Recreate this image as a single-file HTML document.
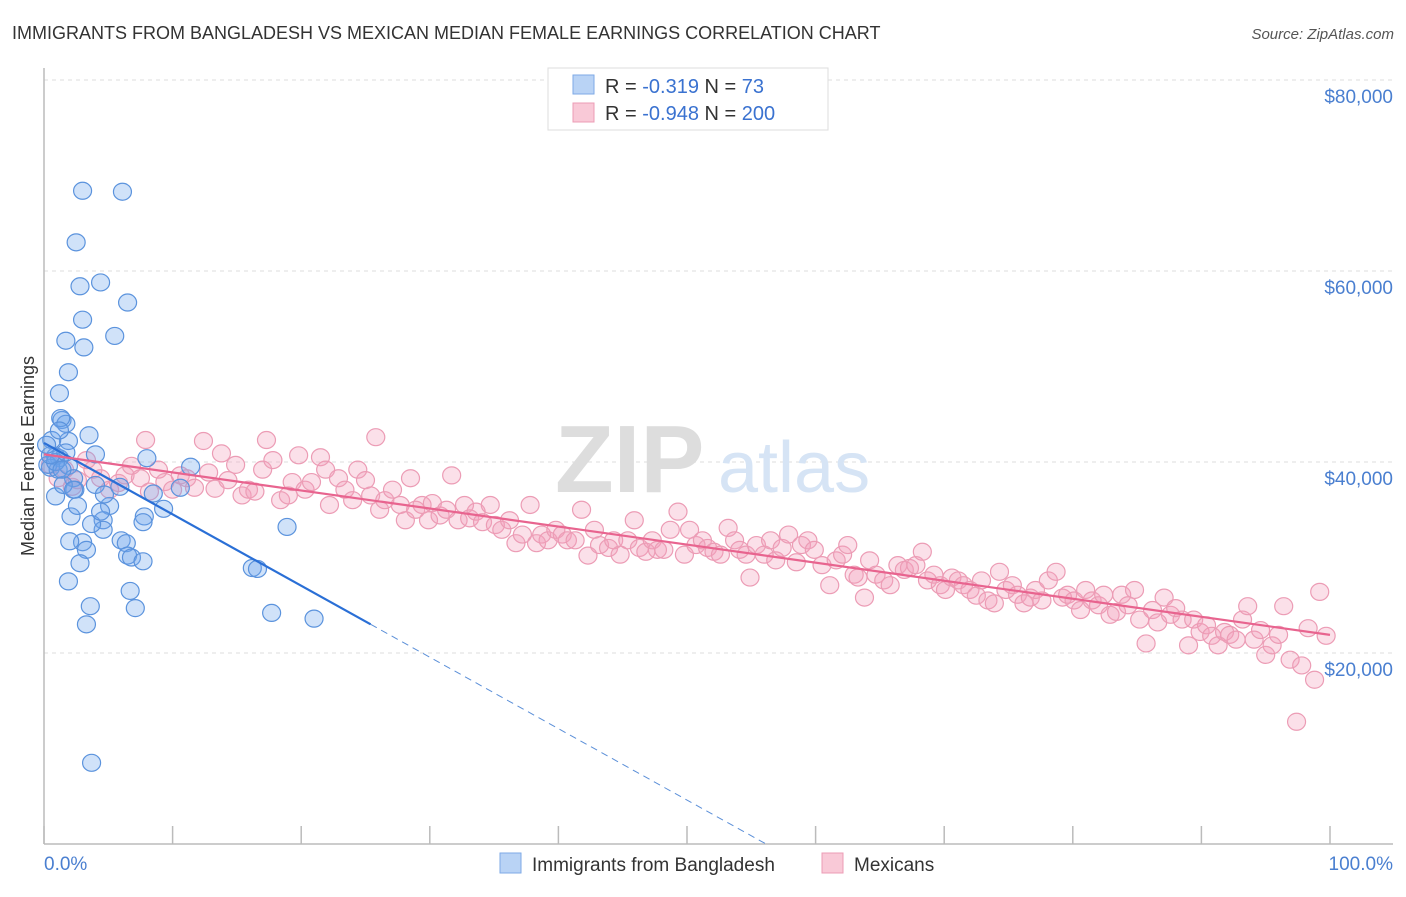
<!DOCTYPE html>
<html><head><meta charset="utf-8"><style>
body{margin:0;background:#fff;font-family:"Liberation Sans",sans-serif}
svg text{font-family:"Liberation Sans",sans-serif}
</style></head><body>
<svg id="chart" width="1406" height="892" xmlns="http://www.w3.org/2000/svg">
<text x="12" y="39" font-size="18" fill="#333">IMMIGRANTS FROM BANGLADESH VS MEXICAN MEDIAN FEMALE EARNINGS CORRELATION CHART</text>
<text x="1394" y="39" font-size="15" fill="#555" font-style="italic" text-anchor="end">Source: ZipAtlas.com</text>
<g id="grid"></g>
<g>
<text x="555" y="492" font-size="96" fill="#ddd" font-family="Liberation Serif" font-weight="bold">ZIP</text>
<text x="718" y="492" font-size="72" fill="#d6e4f5">atlas</text>
</g>
<line x1="44" y1="68" x2="44" y2="844" stroke="#bbb" stroke-width="1.5"/>
<line x1="44" y1="844" x2="1393" y2="844" stroke="#bbb" stroke-width="1.5"/>
<g id="xticks"></g>
<g id="yticks"></g>
<text transform="translate(34,456) rotate(-90)" font-size="18" fill="#333" text-anchor="middle">Median Female Earnings</text>
<text x="44" y="870" font-size="19" fill="#4a7fd0">0.0%</text>
<text x="1393" y="870" font-size="19" fill="#4a7fd0" text-anchor="end">100.0%</text>
<g id="pink"></g>
<g id="blue"></g>
<g id="trends"></g>
<g>
<rect x="548" y="68" width="280" height="62" fill="#fff" stroke="#ddd"/>
<rect x="573" y="75" width="21" height="19" fill="#b9d3f5" stroke="#7ea9e6"/>
<rect x="573" y="103" width="21" height="19" fill="#f9c9d7" stroke="#ec9cb5"/>
<text x="605" y="93" font-size="20" fill="#333">R = <tspan fill="#3a72d0">-0.319</tspan>   N = <tspan fill="#3a72d0">   73</tspan></text>
<text x="605" y="120" font-size="20" fill="#333">R = <tspan fill="#3a72d0">-0.948</tspan>   N = <tspan fill="#3a72d0">200</tspan></text>
</g>
<g>
<rect x="500" y="853" width="21" height="20" fill="#b9d3f5" stroke="#7ea9e6"/>
<text x="532" y="871" font-size="19" fill="#333">Immigrants from Bangladesh</text>
<rect x="822" y="853" width="21" height="20" fill="#f9c9d7" stroke="#ec9cb5"/>
<text x="854" y="871" font-size="19" fill="#333">Mexicans</text>
</g>
</svg>
<script>
const yTicks=[20000,40000,60000,80000];
const yTickLabels=["$20,000","$40,000","$60,000","$80,000"];
const xTicks=[0,10,20,30,40,50,60,70,80,90,100];
const blueX=[3.0,6.1,2.5,2.8,4.4,6.5,3.0,5.5,1.7,3.1,1.9,1.2,1.4,1.7,1.3,1.9,3.5,4.0,0.6,0.9,1.2,0.5,1.1,1.9,2.3,2.4,0.9,2.1,2.6,1.5,4.0,5.9,5.1,4.6,4.6,3.7,3.0,3.3,2.0,1.9,2.8,3.6,3.3,8.0,7.8,7.7,8.5,11.4,10.6,9.3,6.0,6.4,6.5,6.8,7.7,6.7,7.1,16.2,16.6,17.7,21.0,18.9,3.7,0.3,0.9,0.5,1.4,2.3,4.7,4.4,1.2,0.2,1.7];
const blueY=[68.4,68.3,63.0,58.4,58.8,56.7,54.9,53.2,52.7,52.0,49.4,47.2,44.4,44.0,44.6,42.2,42.8,40.8,42.3,40.6,40.4,39.4,39.2,39.6,38.3,37.1,36.4,34.3,35.4,37.6,37.6,37.4,35.4,33.9,32.9,33.5,31.6,30.8,31.7,27.5,29.4,24.9,23.0,40.4,34.3,33.7,36.7,39.5,37.3,35.1,31.8,31.5,30.2,30.0,29.6,26.5,24.7,28.9,28.8,24.2,23.6,33.2,8.5,39.7,40.0,40.7,39.2,37.1,36.6,34.8,43.3,41.8,41.0];
const pinkX=[0.5,1.1,1.6,2.2,2.6,3.3,3.8,4.4,5.1,5.8,6.3,6.8,7.5,7.9,8.2,8.9,9.4,10.0,10.6,11.1,11.7,12.4,12.8,13.3,13.8,14.3,14.9,15.4,15.9,16.4,17.0,17.3,17.8,18.4,19.0,19.3,19.8,20.3,20.8,21.5,21.9,22.2,22.9,23.4,24.0,24.4,25.0,25.4,25.8,26.1,26.5,27.1,27.7,28.1,28.5,28.9,29.4,29.9,30.2,30.8,31.3,31.7,32.2,32.7,33.1,33.6,34.1,34.7,35.1,35.6,36.2,36.7,37.2,37.8,38.3,38.7,39.2,39.8,40.3,40.7,41.3,41.8,42.3,42.8,43.2,43.9,44.3,44.8,45.4,45.9,46.3,46.8,47.3,47.7,48.2,48.7,49.3,49.8,50.2,50.7,51.2,51.6,52.1,52.6,53.2,53.7,54.1,54.6,54.9,55.4,56.0,56.5,56.9,57.4,57.9,58.5,58.9,59.4,59.9,60.5,61.1,61.6,62.1,62.5,63.0,63.3,63.8,64.2,64.7,65.3,65.8,66.4,66.9,67.3,67.8,68.3,68.7,69.2,69.7,70.1,70.6,71.1,71.5,72.0,72.5,72.9,73.4,73.9,74.3,74.8,75.3,75.7,76.2,76.7,77.1,77.6,78.1,78.7,79.2,79.6,80.1,80.6,81.0,81.5,82.0,82.4,82.9,83.4,83.8,84.3,84.8,85.2,85.7,86.2,86.6,87.1,87.6,88.0,88.5,89.0,89.4,89.9,90.4,90.8,91.3,91.8,92.2,92.7,93.2,93.6,94.1,94.6,95.0,95.5,96.0,96.4,96.9,97.4,97.8,98.3,98.8,99.2,99.7];
const pinkY=[39.7,38.3,39.2,37.4,38.1,40.2,39.2,38.3,37.1,37.8,38.6,39.6,38.3,42.3,36.9,39.2,37.9,37.1,38.6,38.3,37.3,42.2,38.9,37.2,40.9,38.1,39.7,36.5,37.1,36.9,39.2,42.3,40.2,36.0,36.5,37.9,40.7,37.1,37.9,40.5,39.2,35.5,38.3,37.1,36.0,39.2,38.1,36.5,42.6,35.0,36.0,37.1,35.5,33.9,38.3,35.0,35.5,33.9,35.7,34.4,35.0,38.6,33.9,35.5,34.1,34.8,33.7,35.5,33.4,32.9,33.9,31.5,32.4,35.5,31.5,32.4,31.8,32.9,32.4,31.8,31.8,35.0,30.2,32.9,31.3,31.0,31.8,30.3,31.8,33.9,31.0,30.6,31.8,30.8,30.8,32.9,34.8,30.3,32.9,31.3,31.8,31.0,30.6,30.3,33.1,31.8,30.8,30.3,27.9,31.3,30.3,31.8,29.7,31.0,32.4,29.5,31.3,31.8,30.8,29.2,27.1,29.7,30.3,31.3,28.2,27.9,25.8,29.7,28.2,27.6,27.1,29.2,28.7,28.9,29.2,30.6,27.6,28.2,27.1,26.6,27.9,27.6,27.1,26.6,26.0,27.6,25.5,25.2,28.5,26.6,27.1,26.1,25.2,25.8,26.6,25.5,27.6,28.5,25.8,26.1,25.5,24.5,26.6,25.5,25.0,26.1,24.0,24.3,26.1,25.0,26.6,23.5,21.0,24.5,23.2,25.8,24.0,24.7,23.5,20.8,23.5,22.2,22.9,21.8,20.8,22.2,21.9,21.4,23.5,24.9,21.4,22.4,19.8,20.8,21.9,24.9,19.3,12.8,18.7,22.6,17.2,26.4,21.8];
const blueTrend=[42.0,-0.748]; // intercept (k$), slope per %
const pinkTrend=[40.8,-0.189];
const blueSolidEnd=25.4;

const NS="http://www.w3.org/2000/svg";
const X0=44,X1=1330,Y0=844,PX=191/20000;
const xs=v=>X0+(X1-X0)*v/100;
const ys=v=>Y0-v*PX;
function mk(t,a,p){const e=document.createElementNS(NS,t);for(const k in a)e.setAttribute(k,a[k]);p.appendChild(e);return e;}
const grid=document.getElementById('grid'),yt=document.getElementById('yticks'),xt=document.getElementById('xticks');
yTicks.forEach((v,i)=>{
 const l=mk('line',{x1:X0,x2:1393,y1:ys(v),y2:ys(v),stroke:'#ddd','stroke-dasharray':'4,4'},grid);
 
 
 const t=mk('text',{x:1393,y:ys(v)+23,'font-size':19,fill:'#4a7fd0','text-anchor':'end'},yt);
 t.textContent=yTickLabels[i];
 
 
});
xTicks.forEach(v=>{
 const l=mk('line',{x1:xs(v),x2:xs(v),y1:Y0,y2:Y0-18,stroke:'#bbb','stroke-width':1.5},xt);
 
 
});
const pg=document.getElementById('pink');
pinkX.forEach((x,i)=>{
 const c=mk('ellipse',{cx:xs(x),cy:ys(pinkY[i]*1000),rx:9,ry:8.5,fill:'rgba(244,160,188,0.32)',stroke:'#ec9cb5','stroke-width':1.2},pg);
 
 
});
const bg=document.getElementById('blue');
blueX.forEach((x,i)=>{
 const c=mk('ellipse',{cx:xs(x),cy:ys(blueY[i]*1000),rx:9,ry:8.5,fill:'rgba(110,165,235,0.32)',stroke:'#5b93dd','stroke-width':1.2},bg);
 
 
});
const tg=document.getElementById('trends');
const bv=x=>(blueTrend[0]+blueTrend[1]*x)*1000;
const pv=x=>(pinkTrend[0]+pinkTrend[1]*x)*1000;
const l1=mk('line',{x1:xs(0),y1:ys(bv(0)),x2:xs(blueSolidEnd),y2:ys(bv(blueSolidEnd)),stroke:'#2a6fd6','stroke-width':2.2},tg);


const xz=-blueTrend[0]/blueTrend[1];
const l2=mk('line',{x1:xs(blueSolidEnd),y1:ys(bv(blueSolidEnd)),x2:xs(xz),y2:ys(0),stroke:'#5b8fd8','stroke-width':1,'stroke-dasharray':'7,5'},tg);


const l3=mk('line',{x1:xs(0),y1:ys(pv(0)),x2:xs(100),y2:ys(pv(100)),stroke:'#e8648f','stroke-width':2.2},tg);


</script>
</body></html>
